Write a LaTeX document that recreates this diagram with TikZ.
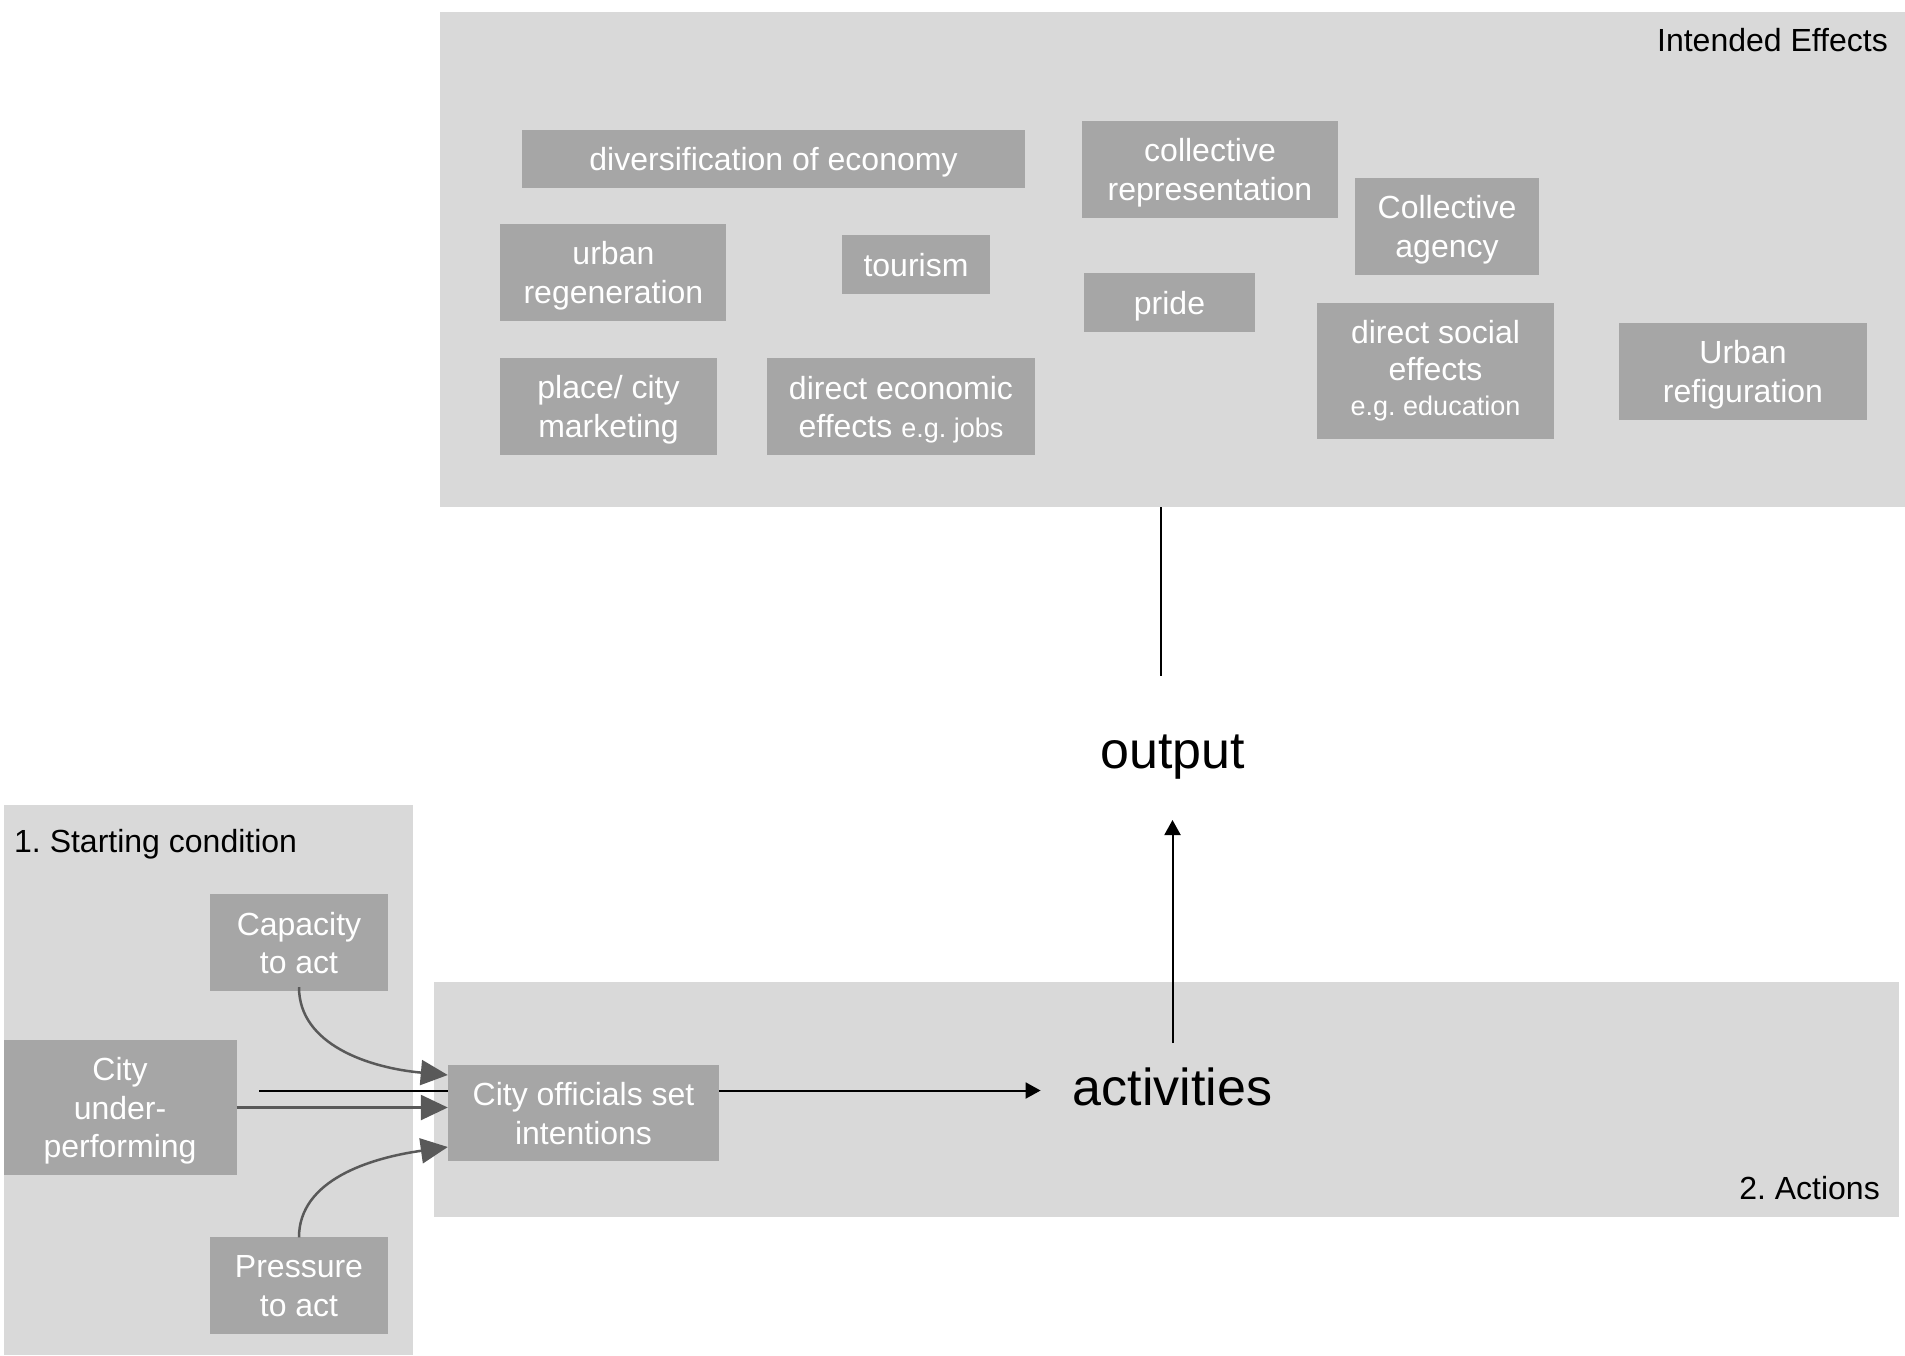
\documentclass[tikz,border=0pt]{standalone}
\usepackage{fontspec}
\setmainfont{Liberation Sans}
\frenchspacing
\usetikzlibrary{arrows.meta,calc}
\definecolor{bgbox}{HTML}{D9D9D9}
\definecolor{itembox}{HTML}{A6A6A6}
\definecolor{arrowgray}{HTML}{595959}
\tikzset{
  region/.style={fill=bgbox, draw=none, inner sep=0pt, minimum width=#1},
  item/.style={fill=itembox, text=white, align=center, inner sep=0pt,
    font=\fontsize{32}{38.5}\selectfont},
  lbl/.style={text=black, inner sep=0pt, font=\fontsize{32}{38.5}\selectfont},
  big/.style={text=black, inner sep=0pt, font=\fontsize{52}{62}\selectfont},
  grayarrow/.style={draw=arrowgray, line width=2.5pt, -{Triangle[length=27pt,width=25pt]}},
  blackarrow/.style={draw=black, line width=2pt, -{Triangle[length=15pt,width=16pt]}}
}
\newcommand{\smallfnt}{\fontsize{27}{33}\selectfont}
\newcommand{\topst}{\rule{0pt}{30pt}}
\newcommand{\botst}{\rule[-6pt]{0pt}{6pt}}
\begin{document}
\begin{tikzpicture}[x=1pt,y=-1pt]
\useasboundingbox (0,0) rectangle (1905,1355);
% background regions
\node[region=1465pt, minimum height=495pt] (effects) at (1172.5,259.5) {};
\node[region=409pt, minimum height=550pt] (start) at (208,1080) {};
\node[region=1465pt, minimum height=235pt] (actions) at (1166.5,1099.5) {};
% region labels
\node[lbl, anchor=base east] (efflbl) at (1888,51) {Intended Effects};
\node[lbl, anchor=base west] (startlbl) at (14,852) {1. Starting condition};
\node[lbl, anchor=base east] (actlbl) at (1880,1199) {2. Actions};
% intended effects items
\node[item, minimum width=503pt, minimum height=58pt] (div) at (773.5,159) {\topst diversification of economy\botst};
\node[item, minimum width=256pt, minimum height=97pt] (colrep) at (1210,169.5) {\topst collective\\representation\botst};
\node[item, minimum width=184pt, minimum height=97pt] (colag) at (1447,226.5) {\topst Collective\\agency\botst};
\node[item, minimum width=226pt, minimum height=97pt] (urbreg) at (613.4,272.5) {\topst urban\\regeneration\botst};
\node[item, minimum width=148pt, minimum height=59pt] (tourism) at (916,264.5) {\topst tourism\botst};
\node[item, minimum width=171pt, minimum height=59pt] (pride) at (1169.5,302.5) {\topst pride\botst};
\node[item, minimum width=237pt, minimum height=136pt] (dirsoc) at (1435.5,371) {\topst direct social\\[-1pt]effects\\[-4pt]{\smallfnt e.g. education}\rule[-14pt]{0pt}{14pt}};
\node[item, minimum width=248pt, minimum height=97pt] (urbref) at (1743,371.5) {\topst Urban\\refiguration\botst};
\node[item, minimum width=217pt, minimum height=97pt] (place) at (608.5,406.5) {\topst place/ city\\marketing\botst};
\node[item, minimum width=268pt, minimum height=97pt] (direco) at (901,406.5) {\topst direct economic\\effects {\smallfnt e.g. jobs}\botst};
% output / activities
\node[big, anchor=base] (output) at (1172.5,768) {output};
\node[big, anchor=base] (activities) at (1172.5,1105) {activities};
\coordinate (outtop) at (1161,676);
\draw[line width=2pt] (outtop |- effects.south) -- (outtop);
\draw[blackarrow] ([yshift=24pt]activities.north) -- ([yshift=-41pt]activities.north |- output.south);
% main line behind officials box
\coordinate (linestart) at (259,1090.5);
\draw[blackarrow, shorten >=32pt] (linestart) -- (linestart -| activities.west);
% starting condition items
\node[item, minimum width=178pt, minimum height=97pt] (capacity) at (299,942.5) {\topst Capacity\\to act\botst};
\node[item, minimum width=233pt, minimum height=135pt] (cityunder) at (120,1107.5) {\topst City\\under-\\performing\botst};
\node[item, minimum width=178pt, minimum height=97pt] (pressure) at (299,1285) {\topst Pressure\\to act\botst};
\node[item, minimum width=271pt, minimum height=96pt] (officials) at (583.5,1113) {\topst City officials set\\intentions\botst};
% gray arrows
\draw[grayarrow] ([yshift=4pt]capacity.south) .. controls (299,1045) and (370,1068) .. ([yshift=38pt]officials.west);
\draw[grayarrow] (cityunder.east) -- (cityunder.east -| officials.west);
\draw[grayarrow] ([yshift=-1pt]pressure.north) .. controls (299,1180) and (370,1158) .. ([yshift=-34pt]officials.west);
\end{tikzpicture}
\end{document}
